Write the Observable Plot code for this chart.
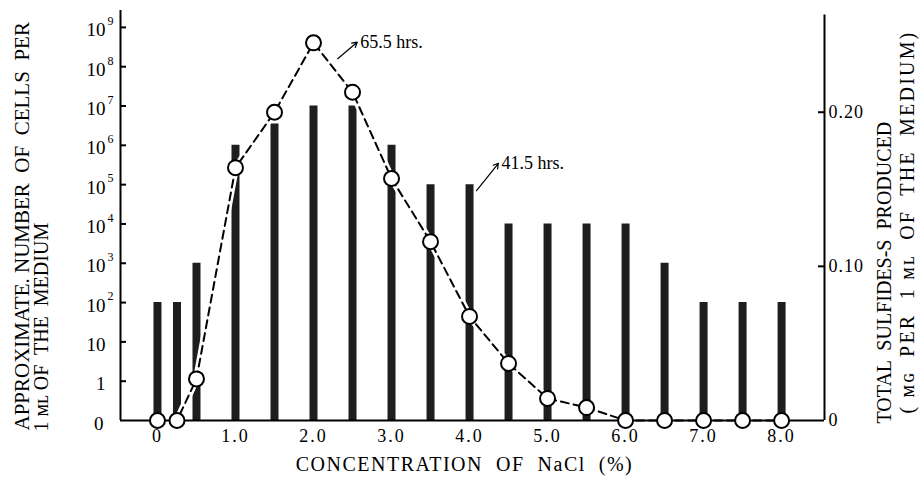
<!DOCTYPE html>
<html><head><meta charset="utf-8">
<script src="https://cdn.jsdelivr.net/npm/d3@7"></script>
<script src="https://cdn.jsdelivr.net/npm/@observablehq/plot@0.6"></script>
<style>body{margin:0;background:#fff} svg{font-family:"Liberation Serif","DejaVu Serif",serif}</style>
</head><body><div id="chart"></div>
<script>
// ---- data ----
const concentrations = [0, 0.25, 0.5, 1.0, 1.5, 2.0, 2.5, 3.0, 3.5, 4.0, 4.5, 5.0, 5.5, 6.0, 6.5, 7.0, 7.5, 8.0];
const cellCounts = [1e2, 1e2, 1e3, 1e6, 3.5e6, 1e7, 1e7, 1e6, 1e5, 1e5, 1e4, 1e4, 1e4, 1e4, 1e3, 1e2, 1e2, 1e2];
const sulfides = [0, 0, 0.027, 0.164, 0.200, 0.245, 0.213, 0.157, 0.116, 0.0675, 0.037, 0.0143, 0.0084, 0, 0, 0, 0, 0];

const xTickValues = [0, 1, 2, 3, 4, 5, 6, 7, 8];
const xTickLabels = ["0", "1.0", "2.0", "3.0", "4.0", "5.0", "6.0", "7.0", "8.0"];
const cellTickPositions = [0, 1, 2, 3, 4, 5, 6, 7, 8, 9, 10];
const cellTickBase = ["0", "1", "10", "10", "10", "10", "10", "10", "10", "10", "10"];
const cellTickExp = ["", "", "", "2", "3", "4", "5", "6", "7", "8", "9"];
const sulfideTickValues = [0, 0.1, 0.2];
const sulfideTickLabels = ["0", "0.10", "0.20"];

const annotationLabels = ["65.5 hrs.", "41.5 hrs."];
const annotationFromX = [2.31, 4.09];
const annotationFromCells = [1.6e8, 7e4];
const annotationToX = [2.56, 4.37];
const annotationToCells = [4.2e8, 3.5e5];

// ---- scale setup ----
const xDomain = [-0.474, 8.55];
const yTop = 10.43;          // top of left axis in "decade index" units
const sulfideTop = 0.266;    // sulfide value at the same height
const sulfideAxisTop = 0.263;
const k = yTop / sulfideTop;
const cellIndex = v => v <= 0 ? 0 : Math.log10(v) + 1;
const tickLenX = 6 / 78;

const bars = concentrations.map((c, i) => ({c, y: cellIndex(cellCounts[i])}));
const sulf = concentrations.map((c, i) => ({c, y: sulfides[i] * k}));
const ann = annotationLabels.map((label, i) => ({
  label, x1: annotationFromX[i], y1: cellIndex(annotationFromCells[i]),
  x2: annotationToX[i], y2: cellIndex(annotationToCells[i])
}));
const font = {fontFamily: "Liberation Serif"};

const chart = Plot.plot({
  width: 923, height: 497,
  marginLeft: 120, marginRight: 99, marginTop: 10, marginBottom: 77,
  x: {domain: xDomain, axis: null},
  y: {domain: [0, yTop], axis: null},
  style: {background: "white", color: "black", overflow: "visible"},
  marks: [
    Plot.ruleX(bars, {x: "c", y1: 0, y2: "y", stroke: "#1e1e1e", strokeWidth: 8}),
    Plot.line(sulf, {x: "c", y: "y", stroke: "white", strokeWidth: 7}),
    Plot.ruleY([0], {stroke: "black", strokeWidth: 2}),
    Plot.ruleX([xDomain[0]], {y1: 0, y2: yTop, stroke: "black", strokeWidth: 2}),
    Plot.ruleX([xDomain[1]], {y1: 0, y2: sulfideAxisTop * k, stroke: "black", strokeWidth: 2}),
    Plot.ruleY(cellTickPositions.slice(1), {x1: xDomain[0], x2: xDomain[0] + tickLenX, stroke: "black", strokeWidth: 2}),
    Plot.ruleY(sulfideTickValues.slice(1), {y: d => d * k, x1: xDomain[1] - tickLenX, x2: xDomain[1], stroke: "black", strokeWidth: 2}),
    Plot.line(sulf, {x: "c", y: "y", stroke: "black", strokeWidth: 2, strokeDasharray: "8,5"}),
    Plot.dot(sulf, {x: "c", y: "y", r: 7.5, fill: "white", stroke: "black", strokeWidth: 2}),
    // left tick labels
    Plot.text(cellTickPositions, {y: d => d, text: d => cellTickBase[d], frameAnchor: "left", textAnchor: "end", dx: -15, dy: 3, fontSize: 19, ...font}),
    Plot.text(cellTickPositions, {y: d => d, text: d => cellTickExp[d], frameAnchor: "left", textAnchor: "start", dx: -13, dy: -6, fontSize: 12, ...font}),
    // right tick labels
    Plot.text(sulfideTickValues, {y: d => d * k, text: (d, i) => sulfideTickLabels[i], frameAnchor: "right", textAnchor: "start", dx: 4, fontSize: 18, ...font}),
    // x tick labels
    Plot.text(xTickValues, {x: d => d, text: (d, i) => xTickLabels[i], frameAnchor: "bottom", dy: 21, fontSize: 18, ...font}),
    // annotations
    Plot.arrow(ann, {x1: "x1", y1: "y1", x2: "x2", y2: "y2", stroke: "black", strokeWidth: 1.2, headLength: 7}),
    Plot.text(ann, {x: "x2", y: "y2", text: "label", textAnchor: "start", dx: 3, fontSize: 18, ...font}),
    // axis titles
    Plot.text(["APPROXIMATE. NUMBER  OF  CELLS  PER"], {frameAnchor: "bottom-left", dx: -92, dy: 10, rotate: -90, textAnchor: "start", fontSize: 21, ...font}),
    Plot.text(["1 ᴍʟ OF  THE  MEDIUM"], {frameAnchor: "bottom-left", dx: -73, dy: 11, rotate: -90, textAnchor: "start", fontSize: 20, ...font}),
    Plot.text(["TOTAL  SULFIDES-S  PRODUCED"], {frameAnchor: "bottom-right", dx: 66, dy: 3, rotate: -90, textAnchor: "start", fontSize: 20, ...font}),
    Plot.text(["( ᴍɢ  PER  1 ᴍʟ  OF  THE  MEDIUM)"], {frameAnchor: "bottom-right", dx: 89, dy: -7, rotate: -90, textAnchor: "start", fontSize: 20, ...font}),
    Plot.text(["CONCENTRATION  OF  NaCl  (%)"], {frameAnchor: "bottom", dx: -8, dy: 50, fontSize: 20, ...font})
  ]
});
// letter spacing (not a Plot text option): applied to the rendered labels
const spacing = [
  [t => xTickLabels.includes(t), 2],
  [t => t.startsWith("0."), 1],
  [t => t.startsWith("( "), 2.2],
  [t => t.startsWith("CONCENTRATION"), 1.5]
];
d3.select(chart).selectAll("text").each(function () {
  const t = this.textContent;
  for (const [test, s] of spacing) if (test(t)) d3.select(this).style("letter-spacing", s + "px");
});
document.getElementById("chart").append(chart);
</script>
</body></html>
